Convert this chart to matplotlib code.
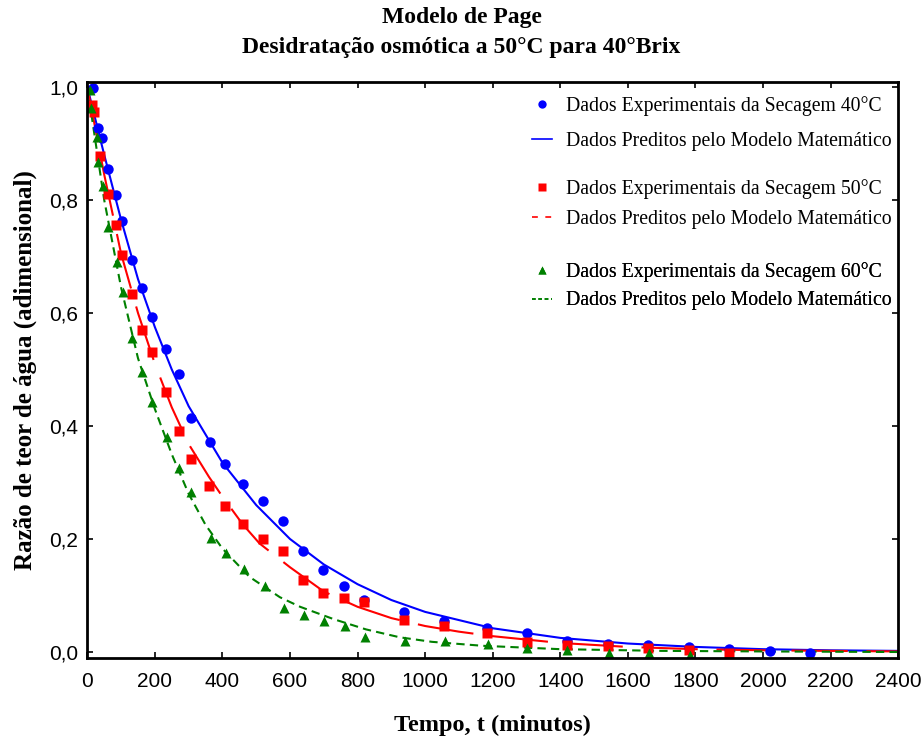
import matplotlib
matplotlib.use('Agg')
import matplotlib.pyplot as plt
from matplotlib.lines import Line2D
from matplotlib.ticker import FuncFormatter

# experimental points (tempo em minutos, razao de teor de agua)
t40 = [18, 32, 44, 60, 84, 103, 131, 161, 190, 232, 272, 307, 362, 408, 461, 521, 579, 638, 697,
       761, 820, 938, 1057, 1182, 1301, 1420, 1542, 1660, 1780, 1900, 2020, 2140]
mr40 = [0.998, 0.928, 0.909, 0.854, 0.808, 0.762, 0.694, 0.644, 0.593, 0.536, 0.492, 0.414, 0.371,
        0.333, 0.297, 0.267, 0.232, 0.178, 0.146, 0.116, 0.092, 0.070, 0.054, 0.042, 0.034, 0.020,
        0.015, 0.012, 0.009, 0.005, 0.002, -0.001]

t50 = [13, 21, 37, 60, 84, 102, 131, 161, 190, 232, 272, 307, 360, 408, 461, 521, 579, 638, 697,
       761, 820, 938, 1057, 1182, 1301, 1420, 1542, 1660, 1780, 1900]
mr50 = [0.968, 0.956, 0.878, 0.810, 0.756, 0.703, 0.633, 0.570, 0.531, 0.461, 0.391, 0.342, 0.294,
        0.259, 0.227, 0.200, 0.178, 0.127, 0.104, 0.095, 0.089, 0.057, 0.046, 0.033, 0.018, 0.013,
        0.011, 0.0065, 0.0035, -0.001]

t60 = [8, 12, 30, 33, 45, 62, 87, 105, 133, 162, 192, 235, 272, 307, 365, 410, 464, 525, 582, 641,
       700, 764, 823, 941, 1060, 1185, 1303, 1421, 1545, 1663, 1783]
mr60 = [0.995, 0.962, 0.912, 0.867, 0.824, 0.753, 0.691, 0.638, 0.555, 0.496, 0.443, 0.381, 0.326,
        0.283, 0.201, 0.175, 0.147, 0.116, 0.078, 0.065, 0.055, 0.046, 0.027, 0.019, 0.020, 0.015,
        0.0065, 0.0035, -0.001, -0.002, -0.005]

# predicted curves
tp40 = [0, 50, 100, 150, 200, 250, 300, 400, 500, 600, 700, 800, 900, 1000, 1200, 1400, 1600,
        1800, 2000, 2200, 2400]
mp40 = [1.0, 0.88, 0.765, 0.66, 0.575, 0.50, 0.435, 0.335, 0.26, 0.20, 0.155, 0.12, 0.092, 0.071,
        0.042, 0.025, 0.015, 0.009, 0.005, 0.003, 0.002]

tp50 = [0, 50, 100, 150, 200, 250, 300, 360, 400, 460, 510, 600, 700, 800, 900, 1000, 1100, 1200,
        1400, 1600, 1800, 2000, 2400]
mp50 = [1.0, 0.845, 0.705, 0.60, 0.51, 0.433, 0.368, 0.31, 0.275, 0.226, 0.192, 0.15, 0.107, 0.08,
        0.06, 0.046, 0.036, 0.028, 0.016, 0.009, 0.005, 0.003, 0.001]

tp60 = [0, 50, 100, 150, 200, 250, 300, 350, 400, 480, 570, 630, 730, 825, 925, 1020, 1170, 1400,
        1700, 2000, 2400]
mp60 = [1.0, 0.80, 0.645, 0.52, 0.43, 0.35, 0.28, 0.225, 0.183, 0.133, 0.097, 0.08, 0.058, 0.04,
        0.026, 0.018, 0.011, 0.005, 0.002, 0.001, 0.0]

xticks = [0, 200, 400, 600, 800, 1000, 1200, 1400, 1600, 1800, 2000, 2200, 2400]
yticks = [0.0, 0.2, 0.4, 0.6, 0.8, 1.0]

blue = '#0000ff'
red = '#ff0000'
green = '#008000'
serif = 'Liberation Serif'
narrow = ['Liberation Sans Narrow', 'Liberation Sans']

fig = plt.figure(figsize=(9.23, 7.44), dpi=100)
ax = fig.add_axes([0.0946, 0.1156, 0.8784, 0.7742])

ax.plot(tp40, mp40, color=blue, lw=1.5)
ax.plot(tp50, mp50, color=red, lw=1.5, dashes=(27, 9))
ax.plot(tp60, mp60, color=green, lw=1.5, dashes=(4, 2.5))
ax.plot(t40, mr40, 'o', color=blue, ms=7.5, mec='none')
ax.plot(t50, mr50, 's', color=red, ms=7.3, mec='none')
ax.plot(t60, mr60, '^', color=green, ms=7.5, mec='none')

ax.set_xlim(0, 2400)
ax.set_ylim(-0.0106, 1.0088)
ax.set_xticks(xticks)
ax.set_yticks(yticks)
ax.yaxis.set_major_formatter(FuncFormatter(lambda v, p: f'{v:.1f}'.replace('.', ',')))
ax.tick_params(direction='in', top=True, right=True, length=4, width=1.2, labelsize=15)
ax.tick_params(axis='x', pad=10)
ax.tick_params(axis='y', pad=6.5)
for lab in ax.get_xticklabels() + ax.get_yticklabels():
    lab.set_family(narrow)
for s in ax.spines.values():
    s.set_linewidth(2)

ax.set_xlabel('Tempo, t (minutos)', family=serif, fontweight='bold', fontsize=17.5, labelpad=17)
ax.set_ylabel('Razão de teor de água (adimensional)', family=serif, fontweight='bold',
              fontsize=18, labelpad=9)
fig.text(0.5, 1 - 17 / 744, 'Modelo de Page', family=serif, fontweight='bold', fontsize=17,
         ha='center', va='center')
fig.text(0.5, 1 - 47 / 744, 'Desidratação osmótica a 50°C para 40°Brix', family=serif,
         fontweight='bold', fontsize=17, ha='center', va='center')

groups = [
    (blue, 'o', '-', 'Dados Experimentais da Secagem 40°C', 0.990, 0.85),
    (red, 's', (0, (3.5, 4.5)), 'Dados Experimentais da Secagem 50°C', 0.8457, 0.55),
    (green, '^', (0, (2.2, 1.6)), 'Dados Experimentais da Secagem 60°C', 0.7017, 0.50),
]
for col, mk, ls, lab, ypos, sp in groups:
    h = [Line2D([], [], marker=mk, color=col, ls='none', ms=6, mec='none'),
         Line2D([], [], color=col, ls=ls, lw=1.2)]
    leg = ax.legend(h, [lab, 'Dados Preditos pelo Modelo Matemático'], loc='upper left',
                    bbox_to_anchor=(0.539, ypos), frameon=False, handlelength=1.0,
                    handletextpad=0.7, labelspacing=sp, borderaxespad=0,
                    prop={'family': serif, 'size': 14.2})
    ax.add_artist(leg)

fig.savefig('out.png', dpi=100)
